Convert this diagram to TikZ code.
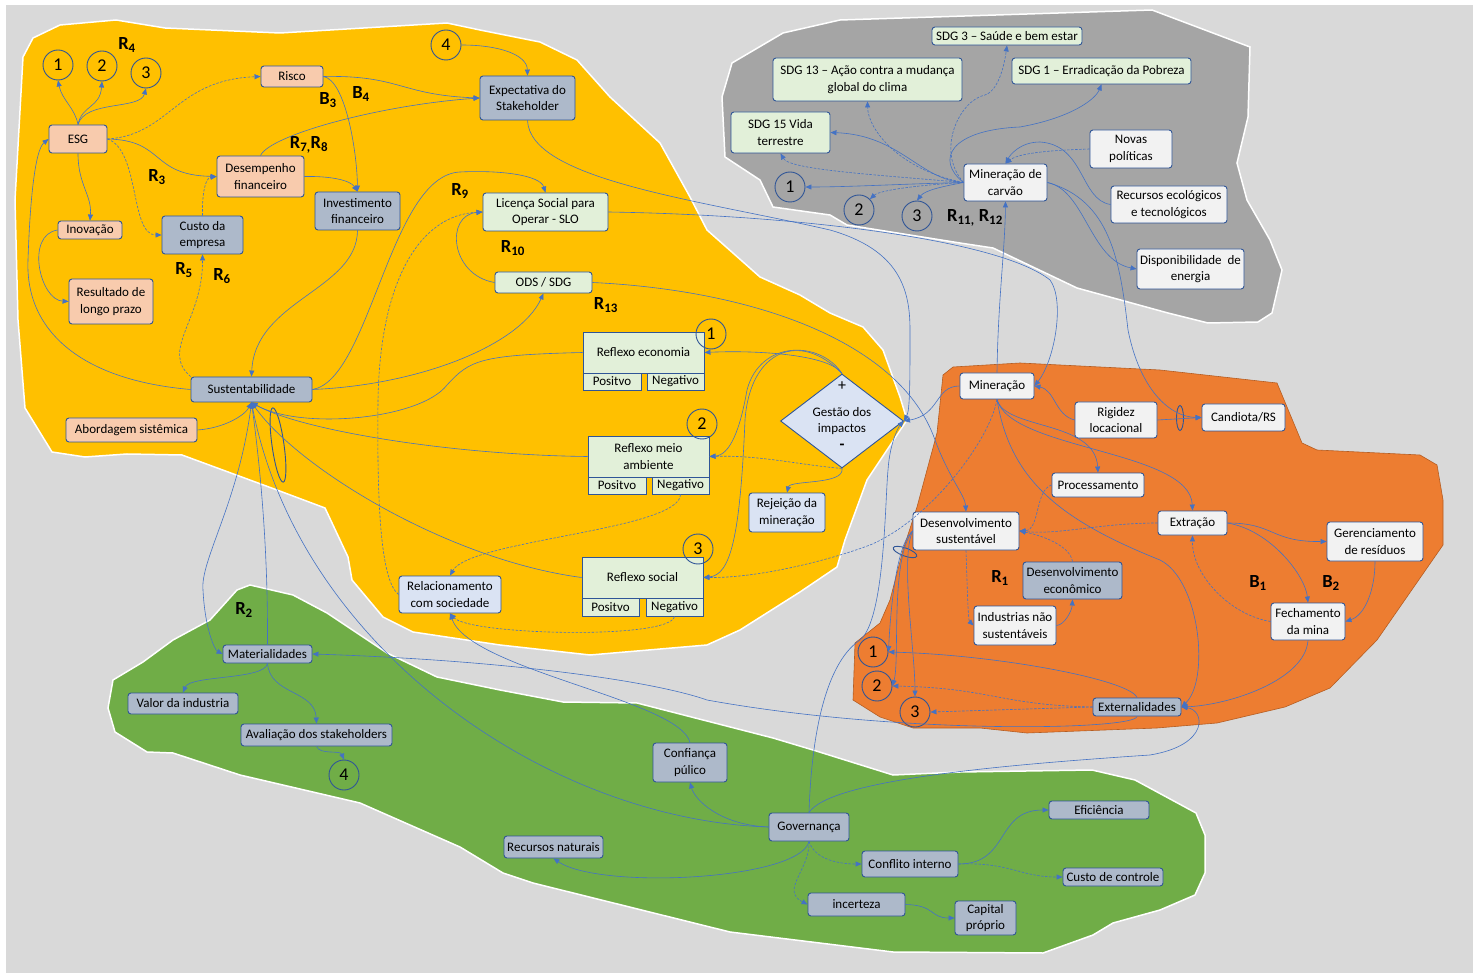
\documentclass[tikz,border=0pt]{standalone}
\usepackage{fontspec}
\setmainfont{Carlito}
\usepackage{tikz}
\usetikzlibrary{arrows.meta, shapes.geometric}
\definecolor{bggray}{HTML}{D9D9D9}
\definecolor{zoneyellow}{HTML}{FFC000}
\definecolor{zonegray}{HTML}{A5A5A5}
\definecolor{zoneorange}{HTML}{ED7D31}
\definecolor{zoneorangeline}{HTML}{B55D22}
\definecolor{zonegreen}{HTML}{70AD47}
\definecolor{boxline}{HTML}{2F5597}
\definecolor{linkblue}{HTML}{4472C4}
\definecolor{peachfill}{HTML}{F8CBAD}
\definecolor{slatefill}{HTML}{ADB9CA}
\definecolor{mintfill}{HTML}{E2F0D9}
\definecolor{palefill}{HTML}{F2F2F2}
\definecolor{skyfill}{HTML}{DAE3F3}

\begin{document}
\begin{tikzpicture}[x=1pt, y=-1pt,
  box/.style={draw=boxline, line width=0.9pt, rounded corners=3pt, align=center, inner sep=1pt, font=\fontsize{13}{16.5}\selectfont},
  sz/.style n args={2}{minimum width=#1pt, minimum height=#2pt},
  peach/.style={box, fill=peachfill},
  slate/.style={box, fill=slatefill},
  mint/.style={box, fill=mintfill},
  pale/.style={box, fill=palefill},
  sky/.style={box, fill=skyfill},
  reflex/.style={box, fill=mintfill, rounded corners=0pt},
  num/.style={circle, draw=boxline, line width=0.9pt, minimum size=30pt, inner sep=0pt, font=\fontsize{18}{18}\selectfont},
  loopname/.style={font=\bfseries\fontsize{18.5}{18.5}\selectfont},
  blob/.style={draw=white, line width=1.5pt},
  ring/.style={ellipse, draw=boxline, line width=0.9pt, inner sep=0pt},
  arr/.style={-{Triangle[length=6pt,width=5pt]}, linkblue, line width=0.6pt},
  darr/.style={arr, dash pattern=on 2.5pt off 1.5pt}
]
  \useasboundingbox (0,0) rectangle (1473,973);
  \fill[bggray] (6,5) rectangle (1473,973);

  \filldraw[blob, fill=zoneyellow] (33,38) -- (60,25) -- (116,20) -- (165,28) -- (280,33) -- (447,23) -- (480,30) -- (540,42) -- (577,60) -- (610,97) -- (660,143) -- (690,197) -- (707,230) -- (760,277) -- (800,295) -- (830,313) -- (863,327) -- (883,350) -- (900,397) -- (907,420) -- (867,480) -- (845,540) -- (837,567) -- (800,592) -- (740,630) -- (707,645) -- (590,655) -- (500,645) -- (413,632) -- (383,617) -- (352,580) -- (348,557) -- (325,508) -- (277,490) -- (182,455) -- (127,454) -- (85,457) -- (52,452) -- (25,408) -- (18,320) -- (15,200) -- (23,57) -- cycle;
  \filldraw[blob, fill=zonegray] (732,63) -- (783,33) -- (840,20) -- (1152,10) -- (1250,47) -- (1248,117) -- (1237,163) -- (1247,200) -- (1270,240) -- (1282,270) -- (1272,313) -- (1258,322) -- (1208,323) -- (1168,313) -- (1077,288) -- (993,248) -- (960,243) -- (847,225) -- (830,215) -- (773,207) -- (760,180) -- (725,157) -- (722,97) -- cycle;
  \filldraw[draw=zoneorangeline, line width=0.6pt, fill=zoneorange] (953,367) -- (1020,363) -- (1160,370) -- (1277,383) -- (1302,443) -- (1317,450) -- (1420,455) -- (1437,465) -- (1443,500) -- (1443,545) -- (1377,640) -- (1330,688) -- (1285,707) -- (1217,723) -- (1157,728) -- (1027,733) -- (980,728) -- (913,728) -- (880,717) -- (853,700) -- (855,643) -- (880,623) -- (890,600) -- (903,550) -- (917,507) -- (937,433) -- (943,375) -- cycle;
  \filldraw[blob, fill=zonegreen] (173,640) -- (143,662) -- (113,680) -- (108,708) -- (115,732) -- (147,752) -- (173,753) -- (240,775) -- (360,803) -- (460,847) -- (503,873) -- (533,883) -- (730,932) -- (893,952) -- (1043,953) -- (1093,935) -- (1113,923) -- (1160,910) -- (1195,895) -- (1205,873) -- (1205,835) -- (1196,813) -- (1135,780) -- (1092,770) -- (960,772) -- (893,775) -- (813,750) -- (773,738) -- (637,703) -- (563,702) -- (500,690) -- (437,677) -- (387,653) -- (357,633) -- (327,613) -- (293,595) -- (250,585) -- (237,590) -- (210,620) -- cycle;

  \node[num] (cy1) at (58,65) {1};
  \node[num] (cy2) at (102,66) {2};
  \node[num] (cy3) at (146,73) {3};
  \node[num] (cy4) at (446,45) {4};
  \node[peach, sz={58}{28}] (esg) at (78,139) {ESG};
  \node[peach, sz={62}{21}] (risco) at (292,76.5) {Risco};
  \node[slate, sz={95}{44}] (expect) at (527.5,98) {Expectativa do\\Stakeholder};
  \node[peach, sz={87}{41}] (desemp) at (260.5,176.5) {Desempenho\\financeiro};
  \node[slate, sz={85}{38}] (invest) at (357.5,211) {Investimento\\financeiro};
  \node[peach, sz={64}{18}] (inov) at (90,230) {Inovação};
  \node[slate, sz={81}{38}] (custo) at (202.5,235) {Custo da\\empresa};
  \node[peach, sz={84}{45}] (result) at (111,301.5) {Resultado de\\longo prazo};
  \node[mint, sz={125}{38}] (slo) at (545.5,212) {Licença Social para\\Operar - SLO};
  \node[mint, sz={97}{21}] (ods) at (543.5,282.5) {ODS / SDG};
  \node[slate, sz={121}{25}] (sust) at (251.5,389.5) {Sustentabilidade};
  \node[peach, sz={131}{24}] (abord) at (131.5,430) {Abordagem sistêmica};
  \node[reflex, sz={121}{41}] (recon) at (643.5,352.5) {Reflexo economia};
  \node[reflex, sz={58}{17}] (reconpos) at (612,381.5) {Positvo};
  \node[reflex, sz={57}{17}] (reconneg) at (675.5,381.5) {Negativo};
  \node[reflex, sz={121}{41}] (ramb) at (648.5,456.5) {Reflexo meio\\ambiente};
  \node[reflex, sz={58}{17}] (rambpos) at (617,485.5) {Positvo};
  \node[reflex, sz={57}{17}] (rambneg) at (680.5,485.5) {Negativo};
  \node[reflex, sz={121}{41}] (rsoc) at (642.5,577.5) {Reflexo social};
  \node[reflex, sz={57}{18}] (rsocpos) at (610.5,607) {Positvo};
  \node[reflex, sz={57}{18}] (rsocneg) at (674.5,607) {Negativo};
  \node[num] (ny1) at (711,334) {1};
  \node[num] (ny2) at (702,424) {2};
  \node[num] (ny3) at (698,549) {3};
  \node[diamond, draw=boxline, line width=0.9pt, fill=skyfill, minimum width=123pt, minimum height=94pt, inner sep=0pt, align=center, font=\fontsize{13}{16.5}\selectfont] (gest) at (842,421) {Gestão dos\\impactos};
  \node[font=\fontsize{16}{16}\selectfont] (gplus) at (842,386) {+};
  \node[font=\bfseries\fontsize{16}{16}\selectfont] (gminus) at (842,447) {-};
  \node[sky, sz={76}{39}] (rejei) at (787,512.5) {Rejeição da\\mineração};
  \node[sky, sz={102}{37}] (relac) at (450,594.5) {Relacionamento\\com sociedade};

  \node[mint, sz={150}{18}] (sdg3) at (1007,36) {SDG 3 – Saúde e bem estar};
  \node[mint, sz={189}{43}] (sdg13) at (867.5,79.5) {SDG 13 – Ação contra a mudança\\global do clima};
  \node[mint, sz={179}{26}] (sdg1) at (1101.5,71) {SDG 1 – Erradicação da Pobreza};
  \node[mint, sz={99}{41}] (sdg15) at (780.5,132.5) {SDG 15 Vida\\terrestre};
  \node[pale, sz={83}{37}] (carvao) at (1005.5,182.5) {Mineração de\\carvão};
  \node[pale, sz={82}{38}] (novas) at (1131,149) {Novas\\políticas};
  \node[pale, sz={116}{37}] (recur) at (1169,204.5) {Recursos ecológicos\\e tecnológicos};
  \node[pale, sz={107}{40}] (dispo) at (1190.5,269) {Disponibilidade\ \ de\\energia};
  \node[num] (gy1) at (790,187) {1};
  \node[num] (gy2) at (859,210) {2};
  \node[num] (gy3) at (917,216) {3};

  \node[pale, sz={74}{26}] (miner) at (997,386) {Mineração};
  \node[pale, sz={82}{36}] (rigid) at (1116,420) {Rigidez\\locacional};
  \node[pale, sz={83}{27}] (cand) at (1243.5,417.5) {Candiota/RS};
  \node[pale, sz={92}{24}] (proc) at (1098,485) {Processamento};
  \node[pale, sz={69}{24}] (extr) at (1192.5,523) {Extração};
  \node[pale, sz={96}{39}] (geren) at (1375,541.5) {Gerenciamento\\de resíduos};
  \node[pale, sz={106}{38}] (dsust) at (966,531) {Desenvolvimento\\sustentável};
  \node[slate, sz={99}{37}] (decon) at (1072.5,580.5) {Desenvolvimento\\econômico};
  \node[pale, sz={82}{39}] (indus) at (1015,625.5) {Industrias não\\sustentáveis};
  \node[pale, sz={74}{37}] (fecha) at (1308,621.5) {Fechamento\\da mina};
  \node[slate, sz={88}{18}] (exter) at (1137,707) {Externalidades};
  \node[num] (oy1) at (873,652) {1};
  \node[num] (oy2) at (877,686) {2};
  \node[num] (oy3) at (915,712) {3};

  \node[slate, sz={89}{18}] (mater) at (267.5,654) {Materialidades};
  \node[slate, sz={110}{21}] (valor) at (183,703.5) {Valor da industria};
  \node[slate, sz={151}{22}] (aval) at (316.5,735) {Avaliação dos stakeholders};
  \node[num] (gc4) at (344,775) {4};
  \node[slate, sz={74}{39}] (confi) at (690,762.5) {Confiança\\púlico};
  \node[slate, sz={80}{28}] (gover) at (809,827) {Governança};
  \node[slate, sz={99}{22}] (recnat) at (553.5,847) {Recursos naturais};
  \node[slate, sz={96}{26}] (confl) at (910,864) {Conflito interno};
  \node[slate, sz={97}{23}] (incer) at (856.5,904.5) {incerteza};
  \node[slate, sz={61}{34}] (capit) at (985.5,918) {Capital\\próprio};
  \node[slate, sz={100}{18}] (efic) at (1099,810) {Eficiência};
  \node[slate, sz={100}{18}] (ccont) at (1113,877) {Custo de controle};

  \node[ring, minimum width=12pt, minimum height=75pt, rotate=8] (ringsust) at (278,445) {};
  \node[ring, minimum width=25pt, minimum height=8pt, rotate=-20] (ringdev) at (905,552) {};
  \node[ring, minimum width=7pt, minimum height=25pt] (ringcand) at (1180,418) {};

  \node[loopname] (lr4) at (127,45) {R\textsubscript{4}};
  \node[loopname] (lb3) at (328,100) {B\textsubscript{3}};
  \node[loopname] (lb4) at (361,94) {B\textsubscript{4}};
  \node[loopname] (lr78) at (309,145) {R\textsubscript{7,}R\textsubscript{8}};
  \node[loopname] (lr3) at (157,177) {R\textsubscript{3}};
  \node[loopname] (lr5) at (184,270) {R\textsubscript{5}};
  \node[loopname] (lr6) at (222,276) {R\textsubscript{6}};
  \node[loopname] (lr9) at (460,191) {R\textsubscript{9}};
  \node[loopname] (lr10) at (513,248) {R\textsubscript{10}};
  \node[loopname] (lr13) at (606,305) {R\textsubscript{13}};
  \node[loopname] (lr1112) at (975,218) {R\textsubscript{11,} R\textsubscript{12}};
  \node[loopname] (lr1) at (1000,578) {R\textsubscript{1}};
  \node[loopname] (lb1) at (1258,583) {B\textsubscript{1}};
  \node[loopname] (lb2) at (1331,583) {B\textsubscript{2}};
  \node[loopname] (lr2) at (244,610) {R\textsubscript{2}};

  \draw[arr] (esg.north) .. controls (75,108) and (62,100) .. (cy1.south);
  \draw[arr] (esg.north) .. controls (82,105) and (100,108) .. (cy2.south);
  \draw[arr] (esg.north) .. controls (85,100) and (140,110) .. (cy3.south);
  \draw[darr] (esg.east) .. controls (170,135) and (175,80) .. (risco.west);
  \draw[arr] (esg.east) .. controls (165,140) and (150,175) .. (desemp.west);
  \draw[darr] (esg.east) .. controls (140,150) and (130,235) .. (custo.west);
  \draw[arr] (esg.south) .. controls (78,185) and (92,195) .. (inov.north);
  \draw[arr] (inov.west) .. controls (25,235) and (40,300) .. (result.west);
  \draw[arr] (sust.west) .. controls (80,380) and (25,330) .. (28,260) .. controls (30,200) and (35,150) .. (esg.west);
  \draw[darr] (custo.north) .. controls (202,195) and (205,178) .. (desemp.west);
  \draw[darr] (sust.north west) .. controls (160,350) and (203,320) .. (custo.south);
  \draw[arr] (risco.east) .. controls (400,75) and (400,95) .. (expect.west);
  \draw[arr] (risco.east) .. controls (345,80) and (357,150) .. (invest.north);
  \draw[arr] (desemp.east) .. controls (330,176) and (350,180) .. (invest.north);
  \draw[arr] (desemp.north) .. controls (270,135) and (380,105) .. (expect.west);
  \draw[arr] (cy4.east) .. controls (500,45) and (527,55) .. (expect.north);
  \draw[arr] (invest.south) .. controls (357,290) and (255,300) .. (sust.north);
  \draw[arr] (sust.east) .. controls (370,380) and (390,175) .. (460,172) .. controls (500,170) and (540,175) .. (slo.north);
  \draw[arr] (sust.east) .. controls (420,385) and (520,345) .. (ods.south);
  \draw[arr] (ods.west) .. controls (450,275) and (445,215) .. (slo.west);
  \draw[darr] (relac.west) .. controls (380,580) and (377,500) .. (378,400) .. controls (380,280) and (420,215) .. (slo.west);
  \draw[arr] (recon.west) .. controls (480,355) and (470,360) .. (447,385) .. controls (420,420) and (300,430) .. (sust.south);
  \draw[arr] (ramb.west) .. controls (450,455) and (300,430) .. (sust.south);
  \draw[arr] (rsoc.west) .. controls (450,560) and (300,470) .. (sust.south);
  \draw[arr] (abord.east) .. controls (225,428) and (245,415) .. (sust.south);
  \draw[arr] (gest.north) .. controls (830,355) and (760,350) .. (recon.east);
  \draw[arr] (gest.north) .. controls (820,340) and (760,340) .. (747,390) .. controls (740,430) and (730,455) .. (ramb.east);
  \draw[arr] (gest.north) .. controls (800,330) and (750,350) .. (745,420) .. controls (740,540) and (730,575) .. (rsoc.east);
  \draw[darr] (gest.south) .. controls (800,465) and (760,455) .. (ramb.east);
  \draw[arr] (gest.south) .. controls (845,485) and (790,480) .. (rejei.north);
  \draw[arr] (miner.west) .. controls (935,386) and (940,415) .. (gest.east);
  \draw[arr] (expect.south) .. controls (530,180) and (700,200) .. (830,230) .. controls (900,250) and (910,290) .. (910,330) .. controls (910,380) and (910,410) .. (gest.east);
  \draw[arr] (gover.north) .. controls (812,720) and (830,660) .. (860,640) .. controls (885,620) and (885,500) .. (888,470) .. controls (890,440) and (900,425) .. (gest.east);
  \draw[darr] (miner.south) .. controls (990,440) and (930,520) .. (870,545) .. controls (830,560) and (760,578) .. (rsoc.east);
  \draw[arr] (ods.east) .. controls (750,290) and (900,340) .. (935,440) .. controls (950,480) and (965,495) .. (dsust.north);
  \draw[arr] (slo.east) .. controls (800,215) and (1000,240) .. (1050,280) .. controls (1065,300) and (1055,360) .. (miner.east);
  \draw[darr] (rambneg.south) .. controls (680,530) and (470,540) .. (relac.north);
  \draw[darr] (rsocneg.south) .. controls (670,640) and (470,635) .. (relac.south);
  \draw[arr] (confi.north) .. controls (680,700) and (470,670) .. (relac.south);

  \draw[arr] (miner.north) .. controls (998,300) and (1005,250) .. (carvao.south);
  \draw[arr] (carvao.west) .. controls (900,184) and (850,187) .. (gy1.east);
  \draw[darr] (carvao.west) .. controls (920,185) and (880,190) .. (gy2.north east);
  \draw[arr] (carvao.west) .. controls (945,186) and (925,190) .. (gy3.north);
  \draw[arr] (carvao.west) .. controls (920,180) and (900,135) .. (sdg15.east);
  \draw[darr] (carvao.west) .. controls (880,175) and (790,170) .. (sdg15.south);
  \draw[darr] (carvao.west) .. controls (900,170) and (868,130) .. (sdg13.south);
  \draw[darr] (carvao.west) .. controls (935,150) and (960,100) .. (985,95) .. controls (1000,90) and (1005,60) .. (sdg3.south);
  \draw[arr] (carvao.west) .. controls (935,160) and (950,130) .. (1020,127) .. controls (1070,118) and (1095,100) .. (sdg1.south);
  \draw[darr] (novas.west) .. controls (1060,150) and (1020,152) .. (carvao.north);
  \draw[arr] (recur.west) .. controls (1080,200) and (1085,145) .. (1040,142) .. controls (1020,142) and (1010,155) .. (carvao.north);
  \draw[arr] (carvao.east) .. controls (1085,190) and (1090,260) .. (dispo.west);
  \draw[arr] (carvao.east) .. controls (1110,200) and (1120,260) .. (1128,330) .. controls (1140,390) and (1170,417) .. (cand.west);

  \draw[arr] (rigid.west) .. controls (1055,415) and (1055,390) .. (miner.east);
  \draw[arr] (rigid.east) -- (cand.west);
  \draw[arr] (miner.south) .. controls (1005,430) and (1095,420) .. (proc.north);
  \draw[arr] (miner.south) .. controls (1010,450) and (1190,450) .. (extr.north);
  \draw[darr] (proc.west) .. controls (1035,490) and (1040,530) .. (dsust.east);
  \draw[darr] (extr.west) .. controls (1100,523) and (1060,535) .. (dsust.east);
  \draw[darr] (decon.north) .. controls (1070,545) and (1040,535) .. (dsust.east);
  \draw[darr] (dsust.south) .. controls (967,580) and (968,620) .. (indus.west);
  \draw[arr] (indus.east) .. controls (1065,625) and (1072,610) .. (decon.south);
  \draw[arr] (extr.east) .. controls (1275,523) and (1270,542) .. (geren.west);
  \draw[arr] (extr.east) .. controls (1270,530) and (1305,575) .. (fecha.north);
  \draw[arr] (geren.south) .. controls (1375,590) and (1365,615) .. (fecha.east);
  \draw[darr] (fecha.west) .. controls (1230,615) and (1192,575) .. (extr.south);
  \draw[arr] (miner.south) .. controls (1010,480) and (1060,520) .. (1160,560) .. controls (1200,580) and (1210,680) .. (exter.east);
  \draw[arr] (fecha.south) .. controls (1305,680) and (1230,705) .. (exter.east);
  \draw[arr] (dsust.west) .. controls (895,545) and (890,620) .. (oy1.east);
  \draw[arr] (dsust.west) .. controls (890,560) and (900,660) .. (oy2.east);
  \draw[arr] (dsust.west) .. controls (900,560) and (915,650) .. (oy3.north);
  \draw[darr] (exter.west) .. controls (1000,705) and (990,688) .. (oy2.east);
  \draw[darr] (exter.west) -- (oy3.east);
  \draw[arr] (exter.north) .. controls (1130,680) and (1000,655) .. (oy1.east);
  \draw[arr] (exter.south) .. controls (1135,730) and (900,735) .. (707,700) .. controls (650,680) and (500,660) .. (mater.east);
  \draw[arr] (gover.north) .. controls (830,780) and (1000,765) .. (1150,755) .. controls (1210,745) and (1205,710) .. (exter.east);

  \draw[arr] (sust.south) .. controls (240,500) and (200,560) .. (203,590) .. controls (205,630) and (215,650) .. (mater.west);
  \draw[arr] (mater.north) .. controls (268,560) and (262,480) .. (sust.south);
  \draw[arr] (gover.west) .. controls (550,820) and (300,650) .. (sust.south);
  \draw[arr] (mater.south) .. controls (265,680) and (190,675) .. (valor.north);
  \draw[arr] (mater.south) .. controls (270,695) and (315,690) .. (aval.north);
  \draw[arr] (aval.south) .. controls (320,755) and (340,750) .. (gc4.north);
  \draw[arr] (gover.west) .. controls (720,825) and (695,800) .. (confi.south);
  \draw[arr] (gover.south) .. controls (800,880) and (600,890) .. (recnat.south);
  \draw[darr] (gover.south) .. controls (815,860) and (840,864) .. (confl.west);
  \draw[darr] (gover.south) .. controls (810,870) and (780,890) .. (incer.west);
  \draw[arr] (incer.east) .. controls (935,905) and (930,918) .. (capit.west);
  \draw[arr] (confl.east) .. controls (1010,864) and (995,810) .. (efic.west);
  \draw[darr] (confl.east) .. controls (1010,862) and (1020,877) .. (ccont.west);
\end{tikzpicture}
\end{document}
